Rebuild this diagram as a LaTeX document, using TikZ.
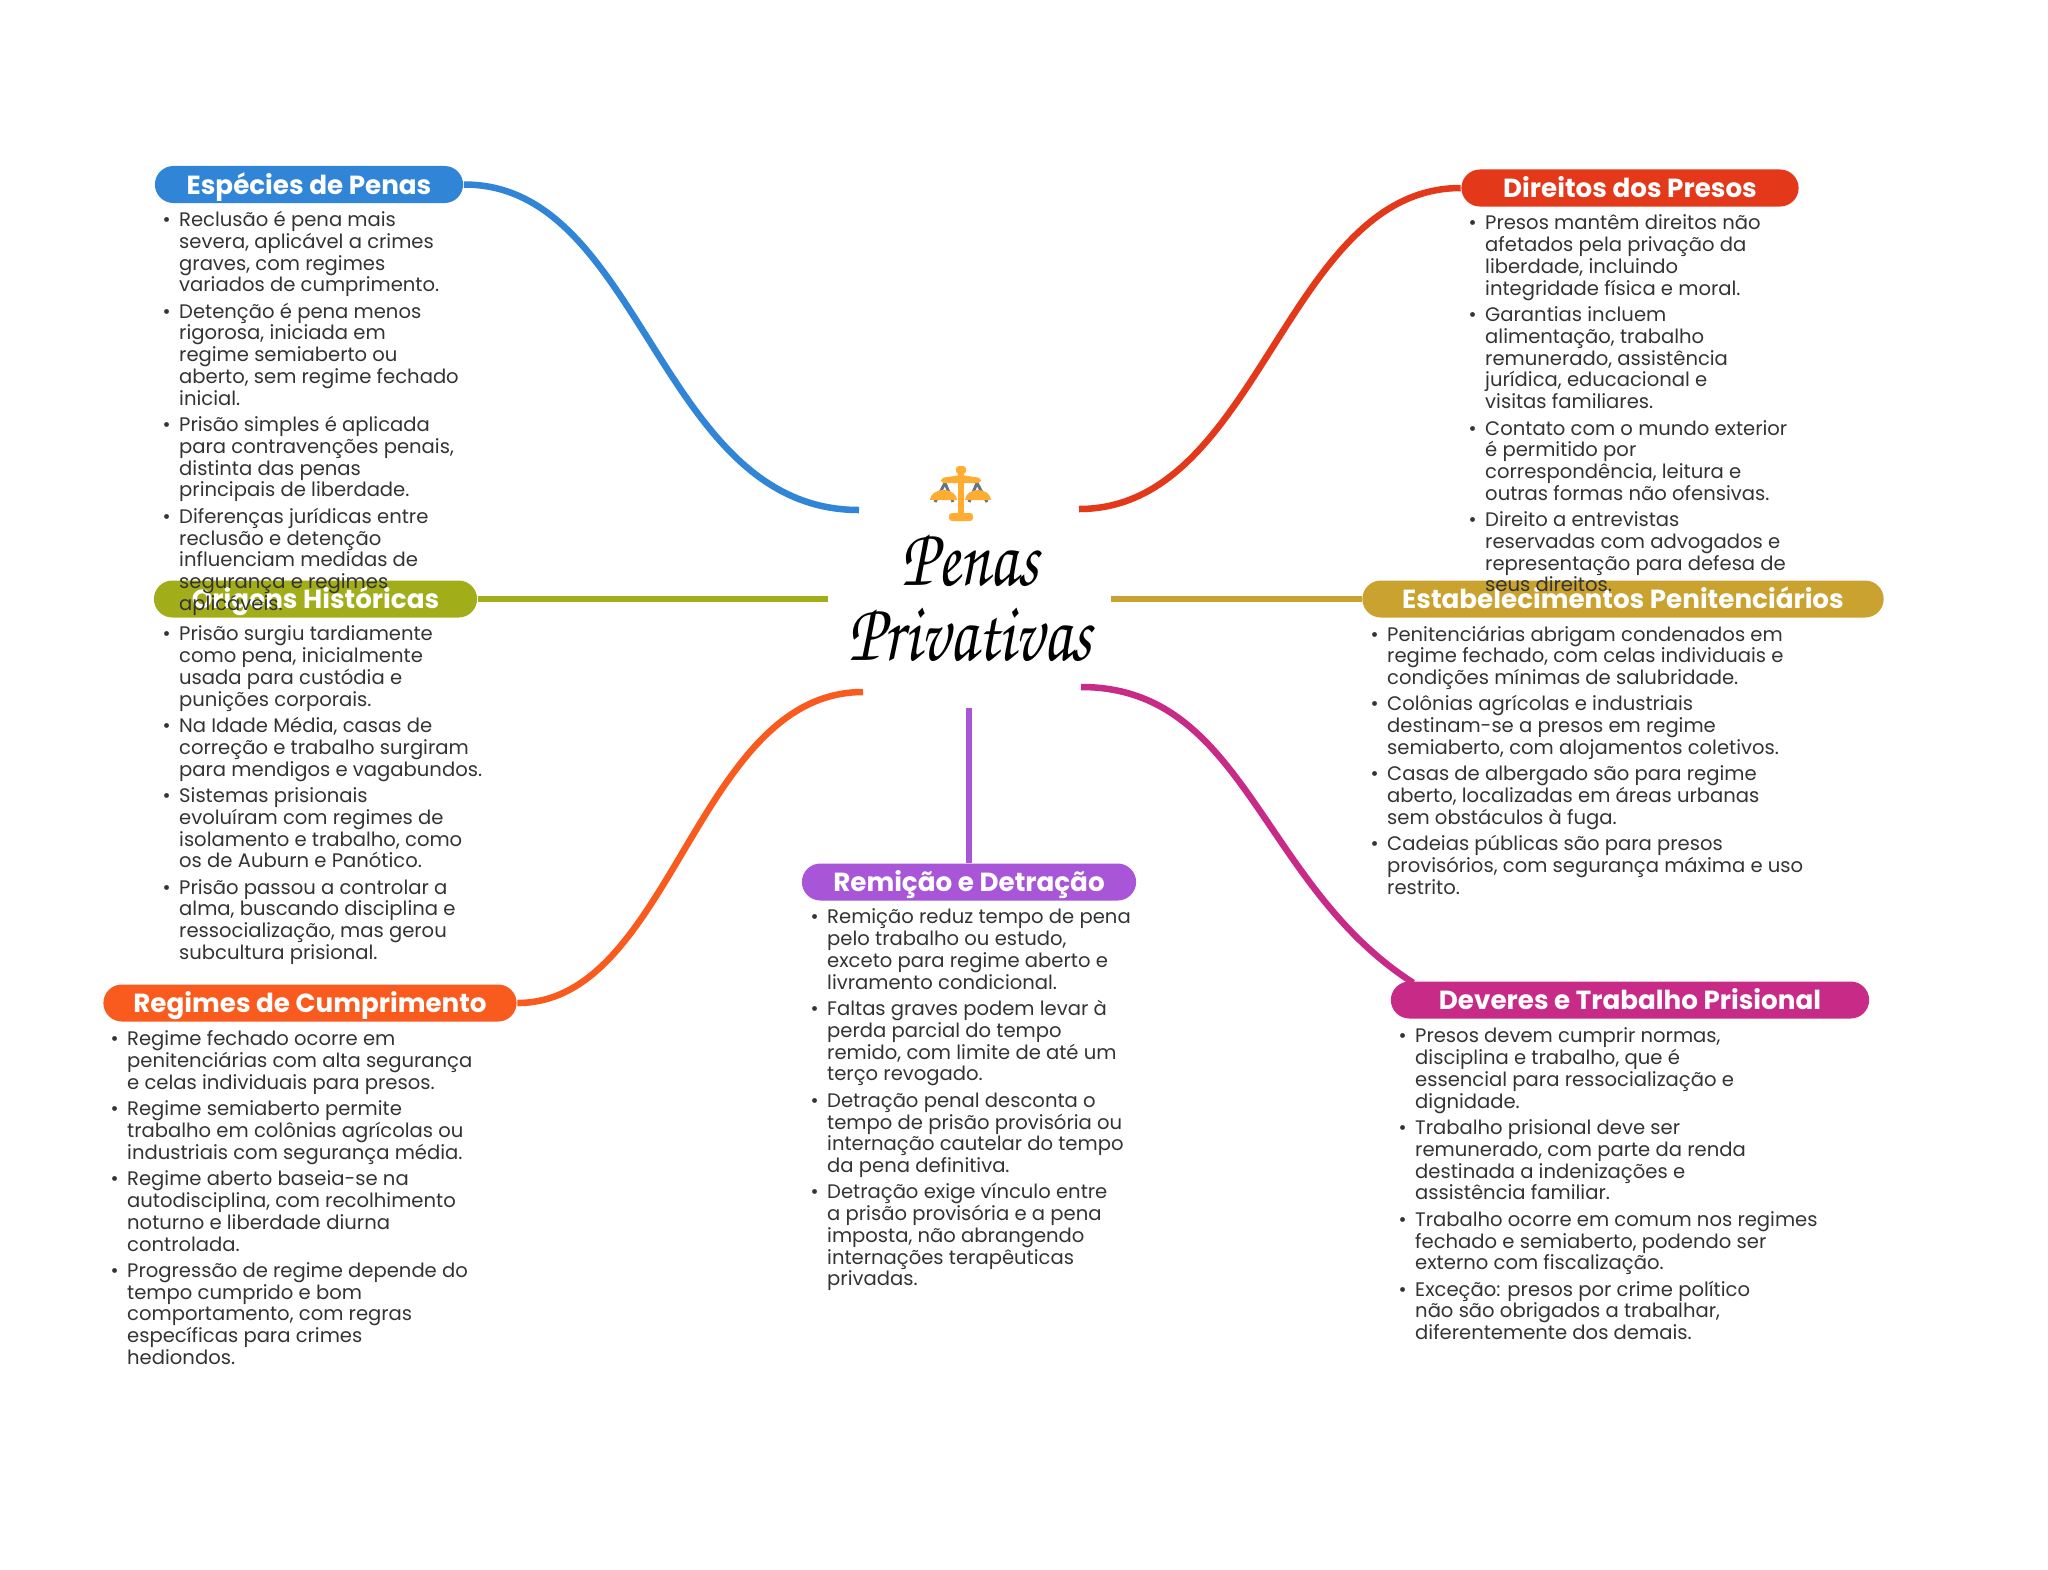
\documentclass[tikz,border=0pt]{standalone}
\usepackage{fontspec}
\setmainfont{Poppins}
\newfontfamily\titlefont{TeX Gyre Chorus}
\definecolor{capBlue}{RGB}{48, 133, 214}
\definecolor{capRed}{RGB}{228, 56, 26}
\definecolor{capOlive}{RGB}{162, 173, 26}
\definecolor{capGold}{RGB}{201, 162, 47}
\definecolor{capOrange}{RGB}{249, 90, 30}
\definecolor{capPurple}{RGB}{168, 85, 216}
\definecolor{capMagenta}{RGB}{199, 42, 135}
\definecolor{bodyGrey}{RGB}{51, 51, 51}
\definecolor{scaleAmber}{RGB}{255, 172, 51}
\definecolor{scaleGrey}{RGB}{102, 117, 127}
\newcommand{\bul}{\strut\llap{\textbullet\hspace{2.4pt}}}
\setlength{\lineskiplimit}{-10pt}
\tikzset{
  caption/.style={fill=#1, text=white, rectangle, rounded corners=1.85mm, minimum height=0.37cm,
    inner sep=0pt, text height=7pt, text depth=1.6pt,
    font=\fontsize{7.45pt}{8pt}\selectfont\bfseries},
  bodytext/.style={anchor=north west, align=left, inner sep=0pt, text=bodyGrey,
    font=\fontsize{5.57pt}{6.19pt}\selectfont},
  branch/.style={draw=#1, line width=1.85pt},
  titleline/.style={anchor=base, inner sep=0pt, xscale=0.78, font=\titlefont\fontsize{24pt}{24pt}\selectfont}
}

\begin{document}
\begin{tikzpicture}[x=0.01cm,y=-0.01cm]
  \useasboundingbox (0,0) rectangle (2048,1569);
  % branch ends round the title
  \coordinate (endBlue) at (859,510);
  \coordinate (endRed) at (1079,509);
  \coordinate (endOlive) at (828,599);
  \coordinate (endGold) at (1111,599);
  \coordinate (endOrange) at (863,692);
  \coordinate (endMagenta) at (1081,687);
  \coordinate (endPurple) at (969,708);
  % captions
  \node[caption=capBlue, minimum width=3.08cm] (especies) at (309,184.5) {Espécies de Penas};
  \node[caption=capRed, minimum width=3.37cm] (direitos) at (1630,188) {Direitos dos Presos};
  \node[caption=capOlive, minimum width=3.23cm] (origens) at (315.5,599) {Origens Históricas};
  \node[caption=capGold, minimum width=5.21cm] (estabelec) at (1623,599) {Estabelecimentos Penitenciários};
  \node[caption=capPurple, minimum width=3.34cm] (remicao) at (969,882) {Remição e Detração};
  \node[caption=capOrange, minimum width=4.13cm] (regimes) at (310,1003) {Regimes de Cumprimento};
  \node[caption=capMagenta, minimum width=4.78cm] (deveres) at (1630,1000) {Deveres e Trabalho Prisional};
  % branches
  \draw[branch=capBlue] (especies.east) .. controls (643,184) and (658,510) .. (endBlue);
  \draw[branch=capRed] (endRed) .. controls (1260,509) and (1285,188) .. (direitos.west);
  \draw[branch=capOlive] (origens.east) -- (endOlive);
  \draw[branch=capGold] (endGold) -- (estabelec.west);
  \draw[branch=capOrange] (regimes.east) .. controls (672,1003) and (696,692) .. (endOrange);
  \draw[branch=capMagenta] (endMagenta) .. controls (1245,687) and (1260,885) .. ([xshift=2.3mm,yshift=-0.2mm]deveres.north west);
  \draw[branch=capPurple] (endPurple) -- (remicao.north);
  % title
  \node[titleline] (penas) at (970,585) {Penas};
  \node[titleline] (privativas) at (970,660) {Privativas};
  % scales icon
  \draw[scaleGrey, line width=0.85pt] (935,502) -- (945,483) -- (953,502);
  \draw[scaleGrey, line width=0.85pt] (969,502) -- (977,483) -- (987,502);
  \fill[scaleAmber] (958,468) rectangle (964,521);
  \fill[scaleAmber, rounded corners=0.3mm] (956,466) rectangle (966,474);
  \fill[scaleAmber, rounded corners=0.3mm] (949,513) rectangle (973,521);
  \fill[scaleAmber, rounded corners=0.3mm] (941,483) -- (941,478) -- (961,475) -- (981,478) -- (981,483) -- cycle;
  \fill[scaleAmber] (930,500) -- (957,500) arc (0:-180:13.5 and 10) -- cycle;
  \fill[scaleAmber] (965,500) -- (991,500) arc (0:-180:13 and 10) -- cycle;
  % texts
  \node[bodytext] (especiesText) at (178.5,210.5) {\bul Reclusão é pena mais\\severa, aplicável a crimes\\graves, com regimes\\variados de cumprimento.\\[1.3pt]
    \bul Detenção é pena menos\\rigorosa, iniciada em\\regime semiaberto ou\\aberto, sem regime fechado\\inicial.\\[1.3pt]
    \bul Prisão simples é aplicada\\para contravenções penais,\\distinta das penas\\principais de liberdade.\\[1.3pt]
    \bul Diferenças jurídicas entre\\reclusão e detenção\\influenciam medidas de\\segurança e regimes\\aplicáveis.};
  \node[bodytext] (direitosText) at (1484.5,214) {\bul Presos mantêm direitos não\\afetados pela privação da\\liberdade, incluindo\\integridade física e moral.\\[1.3pt]
    \bul Garantias incluem\\alimentação, trabalho\\remunerado, assistência\\jurídica, educacional e\\visitas familiares.\\[1.3pt]
    \bul Contato com o mundo exterior\\é permitido por\\correspondência, leitura e\\outras formas não ofensivas.\\[1.3pt]
    \bul Direito a entrevistas\\reservadas com advogados e\\representação para defesa de\\seus direitos.};
  \node[bodytext] (origensText) at (178.5,625) {\bul Prisão surgiu tardiamente\\como pena, inicialmente\\usada para custódia e\\punições corporais.\\[1.3pt]
    \bul Na Idade Média, casas de\\correção e trabalho surgiram\\para mendigos e vagabundos.\\[1.3pt]
    \bul Sistemas prisionais\\evoluíram com regimes de\\isolamento e trabalho, como\\os de Auburn e Panótico.\\[1.3pt]
    \bul Prisão passou a controlar a\\alma, buscando disciplina e\\ressocialização, mas gerou\\subcultura prisional.};
  \node[bodytext] (estabelecText) at (1386.5,625) {\bul Penitenciárias abrigam condenados em\\regime fechado, com celas individuais e\\condições mínimas de salubridade.\\[1.3pt]
    \bul Colônias agrícolas e industriais\\destinam-se a presos em regime\\semiaberto, com alojamentos coletivos.\\[1.3pt]
    \bul Casas de albergado são para regime\\aberto, localizadas em áreas urbanas\\sem obstáculos à fuga.\\[1.3pt]
    \bul Cadeias públicas são para presos\\provisórios, com segurança máxima e uso\\restrito.};
  \node[bodytext] (remicaoText) at (826.5,908) {\bul Remição reduz tempo de pena\\pelo trabalho ou estudo,\\exceto para regime aberto e\\livramento condicional.\\[1.3pt]
    \bul Faltas graves podem levar à\\perda parcial do tempo\\remido, com limite de até um\\terço revogado.\\[1.3pt]
    \bul Detração penal desconta o\\tempo de prisão provisória ou\\internação cautelar do tempo\\da pena definitiva.\\[1.3pt]
    \bul Detração exige vínculo entre\\a prisão provisória e a pena\\imposta, não abrangendo\\internações terapêuticas\\privadas.};
  \node[bodytext] (regimesText) at (126.5,1030) {\bul Regime fechado ocorre em\\penitenciárias com alta segurança\\e celas individuais para presos.\\[1.3pt]
    \bul Regime semiaberto permite\\trabalho em colônias agrícolas ou\\industriais com segurança média.\\[1.3pt]
    \bul Regime aberto baseia-se na\\autodisciplina, com recolhimento\\noturno e liberdade diurna\\controlada.\\[1.3pt]
    \bul Progressão de regime depende do\\tempo cumprido e bom\\comportamento, com regras\\específicas para crimes\\hediondos.};
  \node[bodytext] (deveresText) at (1414.5,1027) {\bul Presos devem cumprir normas,\\disciplina e trabalho, que é\\essencial para ressocialização e\\dignidade.\\[1.3pt]
    \bul Trabalho prisional deve ser\\remunerado, com parte da renda\\destinada a indenizações e\\assistência familiar.\\[1.3pt]
    \bul Trabalho ocorre em comum nos regimes\\fechado e semiaberto, podendo ser\\externo com fiscalização.\\[1.3pt]
    \bul Exceção: presos por crime político\\não são obrigados a trabalhar,\\diferentemente dos demais.};
\end{tikzpicture}
\end{document}
